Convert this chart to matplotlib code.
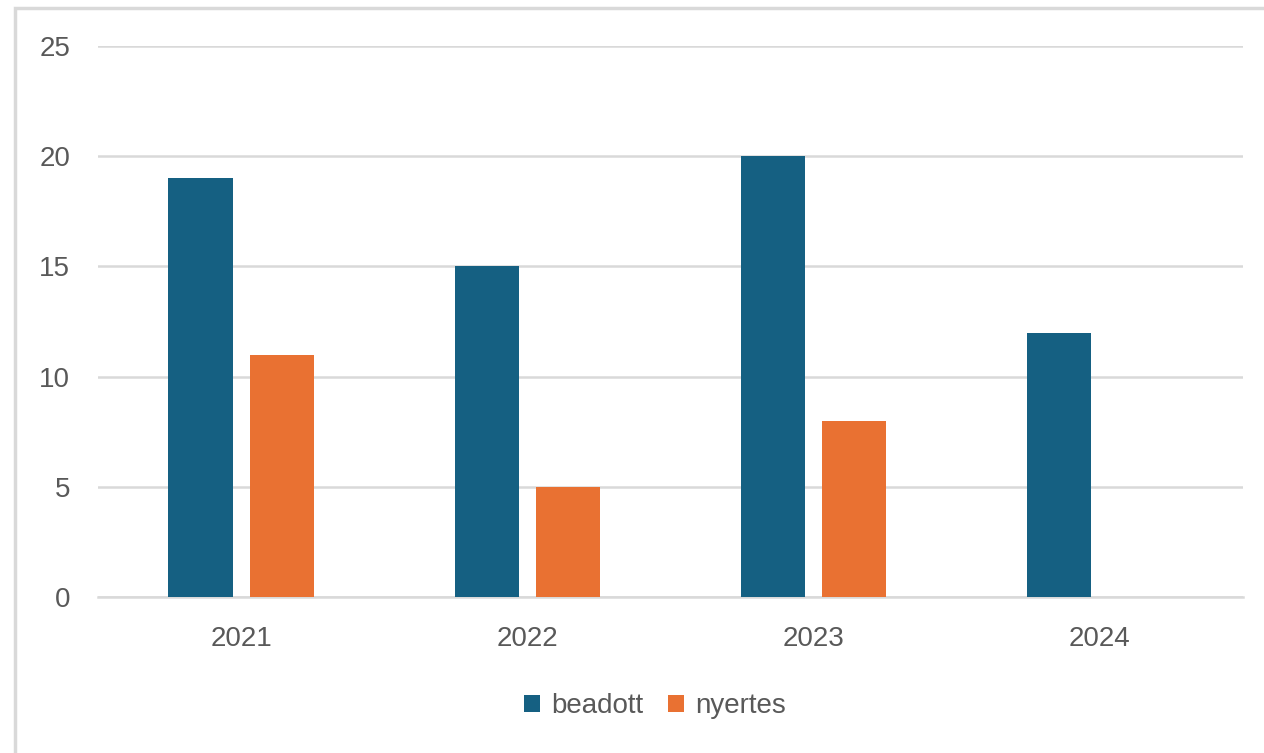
import matplotlib.pyplot as plt
from matplotlib.patches import Rectangle
import numpy as np

plt.rcParams['font.family'] = ['Liberation Sans', 'DejaVu Sans']

years = ['2021', '2022', '2023', '2024']
beadott = [19, 15, 20, 12]
nyertes = [11, 5, 8, 0]

c_blue = '#156082'
c_orange = '#E97132'
txt = '#595959'

fig = plt.figure(figsize=(12.64, 7.53), dpi=100)
# chart area frame (light gray, cropped at right/bottom)
fig.patches.append(Rectangle((15 / 1264, -0.1), 1.2, 1 - 8 / 753 + 0.1,
                             transform=fig.transFigure, fill=False,
                             edgecolor='#D9D9D9', linewidth=2.5))

ax = fig.add_axes([98 / 1264, 1 - 597 / 753, (1243 - 98) / 1264, (597 - 46) / 753])
x = np.arange(len(years))
w = 0.224
ax.bar(x - 0.142, beadott, w, color=c_blue, label='beadott', zorder=3)
ax.bar(x + 0.142, nyertes, w, color=c_orange, label='nyertes', zorder=3)

ax.set_xlim(-0.5, len(years) - 0.5)
ax.set_ylim(0, 25)
ax.set_yticks(range(0, 26, 5))
ax.set_xticks(x)
ax.set_xticklabels(years)
ax.grid(axis='y', color='#D9D9D9', linewidth=1.8, zorder=0)
for s in ['top', 'right', 'left']:
    ax.spines[s].set_visible(False)
ax.spines['bottom'].set_color('#D9D9D9')
ax.spines['bottom'].set_linewidth(1.8)
ax.tick_params(axis='both', length=0, labelsize=20, labelcolor=txt)
ax.tick_params(axis='y', pad=20)
ax.tick_params(axis='x', pad=21)

leg = fig.legend(loc='center', bbox_to_anchor=(655 / 1264, 1 - 706 / 753), ncol=2,
                 frameon=False, fontsize=20, handlelength=0.58, handleheight=0.58,
                 handletextpad=0.4, columnspacing=0.9)
for t in leg.get_texts():
    t.set_color(txt)

plt.savefig('out.png', dpi=100)
